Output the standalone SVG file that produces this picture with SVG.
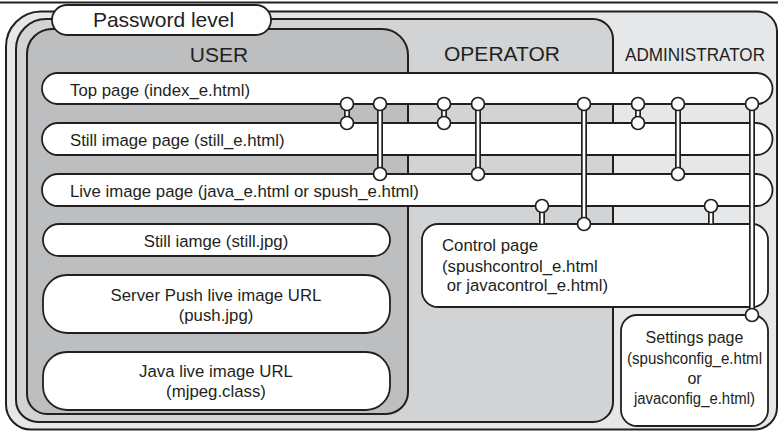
<svg xmlns="http://www.w3.org/2000/svg" width="778" height="431" viewBox="0 0 778 431">
<style>
.fr{stroke:#231f20;stroke-width:2}
.adm{fill:#e6e7e8}
.opr{fill:#d1d3d4}
.usr{fill:#bcbec0}
.bx{fill:#fff;stroke:#231f20;stroke-width:1.8}
.t{font-family:"Liberation Sans",Arial,sans-serif;font-size:16.8px;fill:#231f20}
.h{font-size:21px}
.m{text-anchor:middle}
.co{stroke:#231f20;stroke-width:6;fill:none}
.ci{stroke:#fff;stroke-width:2.6;fill:none}
.dot{fill:#fff;stroke:#231f20;stroke-width:1.7}
</style>
<rect width="778" height="431" fill="#fff"/>
<line x1="0" y1="2.5" x2="778" y2="2.5" stroke="#231f20" stroke-width="1.8"/>
<g id="administrator">
<path class="fr adm" d="M41 11.5H757A20 20 0 0 1 777 31.5V407.5A22 22 0 0 1 755 429.5H31A25 25 0 0 1 6 404.5V46.5A35 35 0 0 1 41 11.5Z"/>
<text class="t m" x="695" y="61" style="font-size:18px" textLength="140" lengthAdjust="spacingAndGlyphs">ADMINISTRATOR</text>
</g>
<g id="operator">
<path class="fr opr" d="M46 19H593A20 20 0 0 1 613 39V402A20 20 0 0 1 593 422H38A22 22 0 0 1 16 400V49A30 30 0 0 1 46 19Z"/>
<text class="t h m" x="502" y="61">OPERATOR</text>
</g>
<g id="user">
<path class="fr usr" d="M52 29H382A26 26 0 0 1 408 55V392A22 22 0 0 1 386 414H47A20 20 0 0 1 27 394V54A25 25 0 0 1 52 29Z"/>
<text class="t h m" x="219" y="62">USER</text>
</g>
<g id="password-level">
<rect class="bx" x="52" y="5" width="219" height="30" rx="15"/>
<text class="t h m" x="163.5" y="27">Password level</text>
</g>
<g id="top-page">
<rect class="bx" x="42" y="73" width="730.5" height="31" rx="15.5"/>
<text class="t" x="70" y="95.5">Top page (index_e.html)</text>
</g>
<g id="still-image-page">
<rect class="bx" x="42" y="123" width="730.5" height="32" rx="16"/>
<text class="t" x="70" y="146">Still image page (still_e.html)</text>
</g>
<g id="live-image-page">
<rect class="bx" x="42" y="174" width="730.5" height="32" rx="16"/>
<text class="t" x="70" y="197">Live image page (java_e.html or spush_e.html)</text>
</g>
<g id="still-image">
<rect class="bx" x="43" y="224" width="347" height="32" rx="16"/>
<text class="t m" x="216" y="247">Still iamge (still.jpg)</text>
</g>
<g id="server-push-url">
<rect class="bx" x="43" y="275" width="347" height="58" rx="24"/>
<text class="t m" x="216" y="301">Server Push live image URL</text>
<text class="t m" x="216" y="321">(push.jpg)</text>
</g>
<g id="java-url">
<rect class="bx" x="43" y="352" width="347" height="58" rx="24"/>
<text class="t m" x="216" y="377">Java live image URL</text>
<text class="t m" x="216" y="397">(mjpeg.class)</text>
</g>
<g id="control-page">
<rect class="bx" x="422" y="224" width="346" height="83" rx="16"/>
<text class="t" x="442" y="251">Control page</text>
<text class="t" x="442" y="271.5">(spushcontrol_e.html</text>
<text class="t" x="442" y="291" xml:space="preserve"> or javacontrol_e.html)</text>
</g>
<g id="settings-page">
<rect class="bx" x="621" y="315" width="147" height="111" rx="16"/>
<text class="t m" x="694.5" y="343" style="font-size:16px">Settings page</text>
<text class="t m" x="694.5" y="364" style="font-size:16px" textLength="135" lengthAdjust="spacingAndGlyphs">(spushconfig_e.html</text>
<text class="t m" x="694.5" y="384" style="font-size:16px">or</text>
<text class="t m" x="694.5" y="404" style="font-size:16px" textLength="121" lengthAdjust="spacingAndGlyphs">javaconfig_e.html)</text>
</g>
<g id="connectors">
<path class="co" d="M347 104V123M444 104V123M638 104V123M380 104V174M478 104V174M678 104V174M584 104V224M752 104V315M542 206V224M711 206V224"/>
<path class="ci" d="M347 104V123M444 104V123M638 104V123M380 104V174M478 104V174M678 104V174M584 104V224M752 104V315M542 206V223.5M711 206V223.5"/>
<g class="dot">
<circle cx="347" cy="104" r="6.5"/><circle cx="347" cy="123" r="6.5"/>
<circle cx="444" cy="104" r="6.5"/><circle cx="444" cy="123" r="6.5"/>
<circle cx="638" cy="104" r="6.5"/><circle cx="638" cy="123" r="6.5"/>
<circle cx="380" cy="104" r="6.5"/><circle cx="380" cy="174" r="6.5"/>
<circle cx="478" cy="104" r="6.5"/><circle cx="478" cy="174" r="6.5"/>
<circle cx="678" cy="104" r="6.5"/><circle cx="678" cy="174" r="6.5"/>
<circle cx="584" cy="104" r="6.5"/><circle cx="584" cy="224" r="6.5"/>
<circle cx="752" cy="104" r="6.5"/><circle cx="752" cy="315" r="6.5"/>
<circle cx="542" cy="206" r="6.5"/><circle cx="711" cy="206" r="6.5"/>
</g>
</g>
</svg>
